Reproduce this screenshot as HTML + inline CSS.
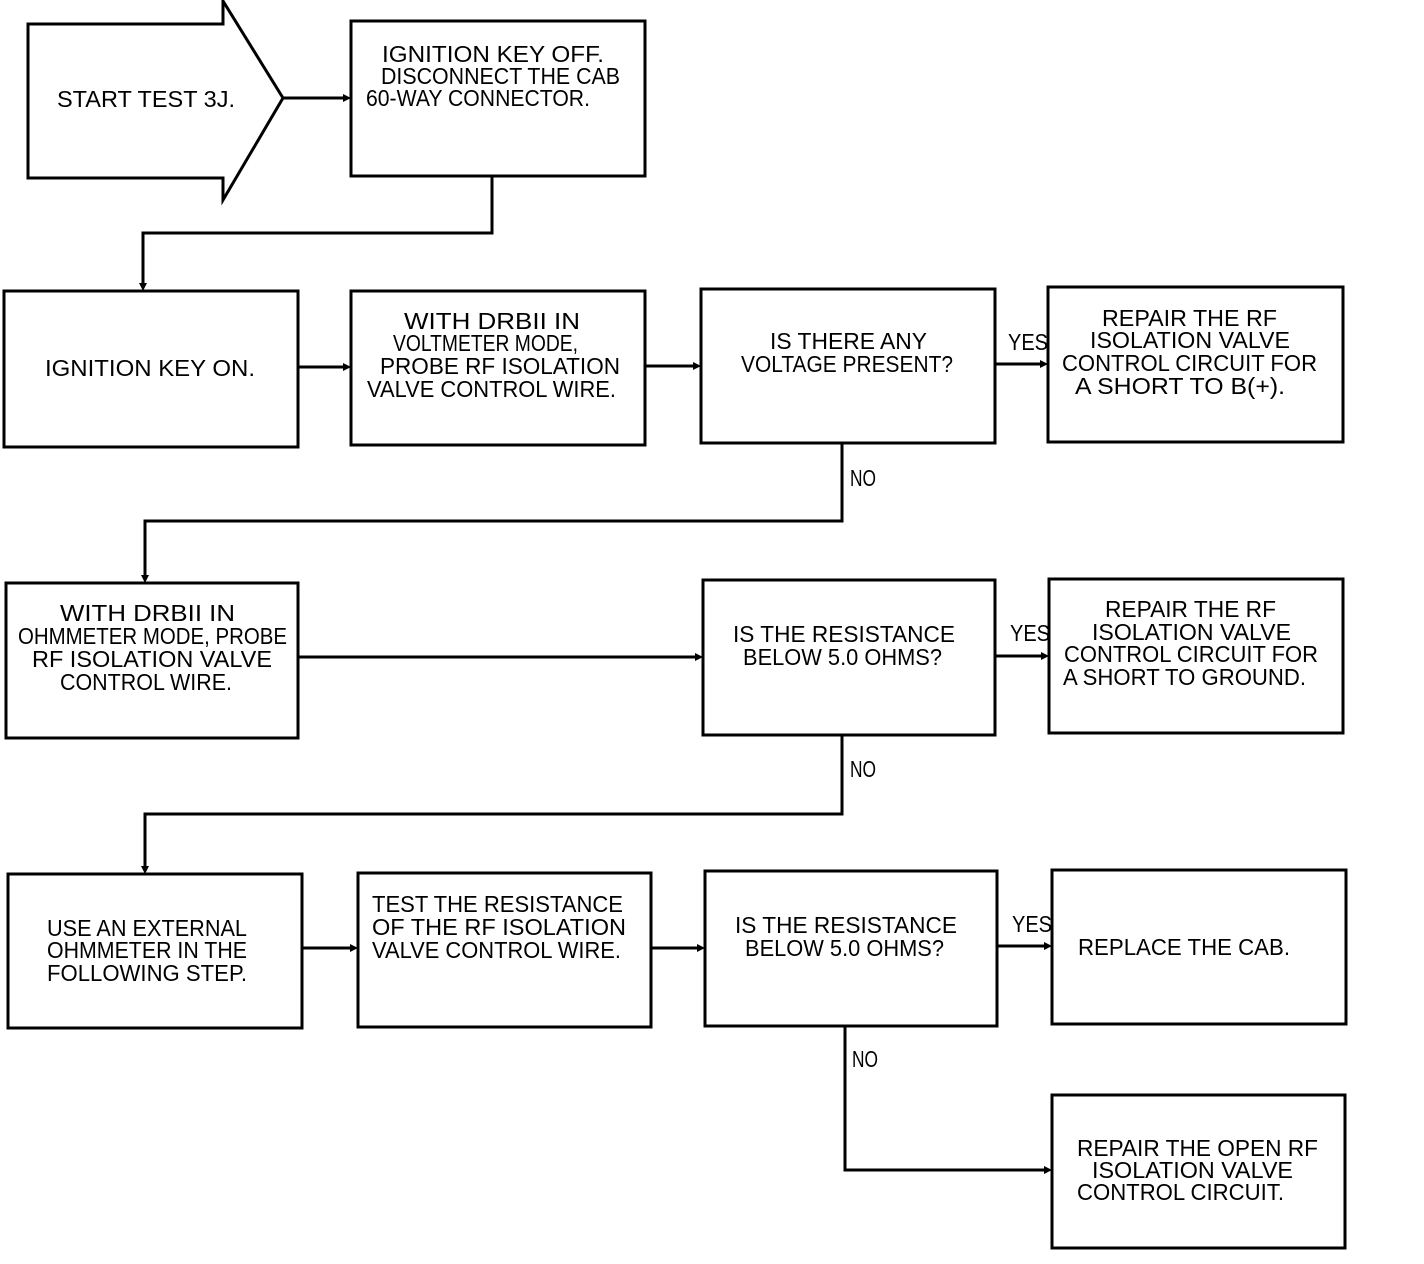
<!DOCTYPE html>
<html><head><meta charset="utf-8"><style>
html,body{margin:0;padding:0;background:#fff;}
svg{display:block;}
text{font-family:"Liberation Sans",sans-serif;font-size:23px;fill:#000;}
</style></head><body>
<svg width="1424" height="1264" viewBox="0 0 1424 1264" xmlns="http://www.w3.org/2000/svg">
<g fill="none" stroke="#000" stroke-width="3">
<polygon points="28,24 223,24 223,1 283,98 223,200 223,178 28,178"/>
<rect x="351" y="21" width="294" height="155"/>
<rect x="4" y="291" width="294" height="156"/>
<rect x="351" y="291" width="294" height="154"/>
<rect x="701" y="289" width="294" height="154"/>
<rect x="1048" y="287" width="295" height="155"/>
<rect x="6" y="583" width="292" height="155"/>
<rect x="703" y="580" width="292" height="155"/>
<rect x="1049" y="579" width="294" height="154"/>
<rect x="8" y="874" width="294" height="154"/>
<rect x="358" y="873" width="293" height="154"/>
<rect x="705" y="871" width="292" height="155"/>
<rect x="1052" y="870" width="294" height="154"/>
<rect x="1052" y="1095" width="293" height="153"/>
<!-- connectors -->
<polyline points="283,98 345,98"/>
<polyline points="492,176 492,233 143,233 143,285"/>
<polyline points="298,367 345,367"/>
<polyline points="645,366 695,366"/>
<polyline points="995,364 1042,364"/>
<polyline points="842,443 842,521 145,521 145,577"/>
<polyline points="298,657 697,657"/>
<polyline points="995,656 1043,656"/>
<polyline points="842,735 842,814 145,814 145,868"/>
<polyline points="302,948 352,948"/>
<polyline points="651,948 699,948"/>
<polyline points="997,946 1046,946"/>
<polyline points="845,1026 845,1170 1046,1170"/>
</g>
<g fill="#000">
<polygon points="351,98 343,94 343,102"/>
<polygon points="143,291 139,283 147,283"/>
<polygon points="351,367 343,363 343,371"/>
<polygon points="701,366 693,362 693,370"/>
<polygon points="1048,364 1040,360 1040,368"/>
<polygon points="145,583 141,575 149,575"/>
<polygon points="703,657 695,653 695,661"/>
<polygon points="1049,656 1041,652 1041,660"/>
<polygon points="145,874 141,866 149,866"/>
<polygon points="358,948 350,944 350,952"/>
<polygon points="705,948 697,944 697,952"/>
<polygon points="1052,946 1044,942 1044,950"/>
<polygon points="1052,1170 1044,1166 1044,1174"/>
</g>
<g lengthAdjust="spacingAndGlyphs">
<text x="57" y="107" textLength="178" lengthAdjust="spacingAndGlyphs">START TEST 3J.</text>
<text x="382" y="62" textLength="222" lengthAdjust="spacingAndGlyphs">IGNITION KEY OFF.</text>
<text x="381" y="84" textLength="239" lengthAdjust="spacingAndGlyphs">DISCONNECT THE CAB</text>
<text x="366" y="106" textLength="224" lengthAdjust="spacingAndGlyphs">60-WAY CONNECTOR.</text>
<text x="45" y="376" textLength="210" lengthAdjust="spacingAndGlyphs">IGNITION KEY ON.</text>
<text x="404" y="329" textLength="176" lengthAdjust="spacingAndGlyphs">WITH DRBII IN</text>
<text x="393" y="351" textLength="185" lengthAdjust="spacingAndGlyphs">VOLTMETER MODE,</text>
<text x="380" y="374" textLength="240" lengthAdjust="spacingAndGlyphs">PROBE RF ISOLATION</text>
<text x="367" y="397" textLength="249" lengthAdjust="spacingAndGlyphs">VALVE CONTROL WIRE.</text>
<text x="770" y="349" textLength="157" lengthAdjust="spacingAndGlyphs">IS THERE ANY</text>
<text x="741" y="372" textLength="212" lengthAdjust="spacingAndGlyphs">VOLTAGE PRESENT?</text>
<text x="1102" y="326" textLength="175" lengthAdjust="spacingAndGlyphs">REPAIR THE RF</text>
<text x="1090" y="348" textLength="200" lengthAdjust="spacingAndGlyphs">ISOLATION VALVE</text>
<text x="1062" y="371" textLength="255" lengthAdjust="spacingAndGlyphs">CONTROL CIRCUIT FOR</text>
<text x="1075" y="394" textLength="210" lengthAdjust="spacingAndGlyphs">A SHORT TO B(+).</text>
<text x="60" y="621" textLength="175" lengthAdjust="spacingAndGlyphs">WITH DRBII IN</text>
<text x="18" y="644" textLength="269" lengthAdjust="spacingAndGlyphs">OHMMETER MODE, PROBE</text>
<text x="32" y="667" textLength="240" lengthAdjust="spacingAndGlyphs">RF ISOLATION VALVE</text>
<text x="60" y="690" textLength="172" lengthAdjust="spacingAndGlyphs">CONTROL WIRE.</text>
<text x="733" y="642" textLength="222" lengthAdjust="spacingAndGlyphs">IS THE RESISTANCE</text>
<text x="743" y="665" textLength="199" lengthAdjust="spacingAndGlyphs">BELOW 5.0 OHMS?</text>
<text x="1105" y="617" textLength="171" lengthAdjust="spacingAndGlyphs">REPAIR THE RF</text>
<text x="1092" y="640" textLength="199" lengthAdjust="spacingAndGlyphs">ISOLATION VALVE</text>
<text x="1064" y="662" textLength="254" lengthAdjust="spacingAndGlyphs">CONTROL CIRCUIT FOR</text>
<text x="1063" y="685" textLength="243" lengthAdjust="spacingAndGlyphs">A SHORT TO GROUND.</text>
<text x="47" y="936" textLength="200" lengthAdjust="spacingAndGlyphs">USE AN EXTERNAL</text>
<text x="47" y="958" textLength="200" lengthAdjust="spacingAndGlyphs">OHMMETER IN THE</text>
<text x="47" y="981" textLength="200" lengthAdjust="spacingAndGlyphs">FOLLOWING STEP.</text>
<text x="372" y="912" textLength="251" lengthAdjust="spacingAndGlyphs">TEST THE RESISTANCE</text>
<text x="372" y="935" textLength="254" lengthAdjust="spacingAndGlyphs">OF THE RF ISOLATION</text>
<text x="372" y="958" textLength="249" lengthAdjust="spacingAndGlyphs">VALVE CONTROL WIRE.</text>
<text x="735" y="933" textLength="222" lengthAdjust="spacingAndGlyphs">IS THE RESISTANCE</text>
<text x="745" y="956" textLength="199" lengthAdjust="spacingAndGlyphs">BELOW 5.0 OHMS?</text>
<text x="1078" y="955" textLength="212" lengthAdjust="spacingAndGlyphs">REPLACE THE CAB.</text>
<text x="1077" y="1156" textLength="241" lengthAdjust="spacingAndGlyphs">REPAIR THE OPEN RF</text>
<text x="1092" y="1178" textLength="201" lengthAdjust="spacingAndGlyphs">ISOLATION VALVE</text>
<text x="1077" y="1200" textLength="207" lengthAdjust="spacingAndGlyphs">CONTROL CIRCUIT.</text>
<text x="1008" y="350" textLength="40" lengthAdjust="spacingAndGlyphs">YES</text>
<text x="850" y="486" textLength="26" lengthAdjust="spacingAndGlyphs">NO</text>
<text x="1010" y="641" textLength="40" lengthAdjust="spacingAndGlyphs">YES</text>
<text x="850" y="777" textLength="26" lengthAdjust="spacingAndGlyphs">NO</text>
<text x="1012" y="932" textLength="40" lengthAdjust="spacingAndGlyphs">YES</text>
<text x="852" y="1067" textLength="26" lengthAdjust="spacingAndGlyphs">NO</text>
</g>
</svg>
</body></html>
